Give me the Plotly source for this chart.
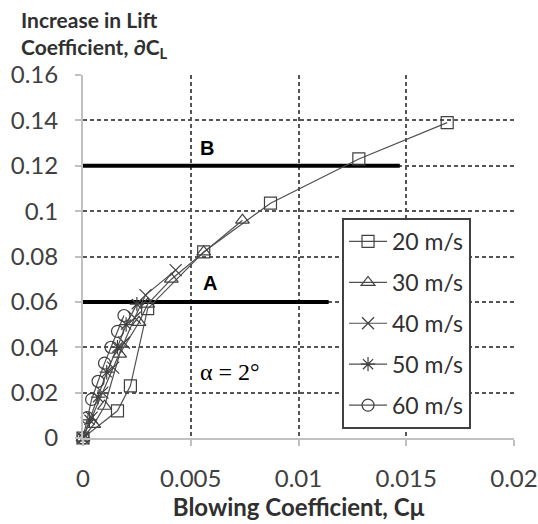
import plotly.graph_objects as go

# ---- data ----
x20 = [0.0, 0.0016, 0.0022, 0.0030, 0.0056, 0.0087, 0.0128, 0.0169]
y20 = [0.0, 0.012, 0.023, 0.057, 0.082, 0.1035, 0.123, 0.139]

x30 = [0.0, 0.0005, 0.0010, 0.0017, 0.0026, 0.0030, 0.0041, 0.0056, 0.0074]
y30 = [0.0, 0.006, 0.014, 0.037, 0.051, 0.059, 0.070, 0.082, 0.096]

x40 = [0.0, 0.0004, 0.0009, 0.0014, 0.0019, 0.0024, 0.0029, 0.0043]
y40 = [0.0, 0.009, 0.020, 0.031, 0.042, 0.053, 0.063, 0.074]

x50 = [0.0, 0.0003, 0.0007, 0.0011, 0.0016, 0.0020, 0.0025]
y50 = [0.0, 0.008, 0.018, 0.029, 0.040, 0.050, 0.059]

x60 = [0.0, 0.0002, 0.0004, 0.0007, 0.0010, 0.0013, 0.0016, 0.0019]
y60 = [0.0, 0.009, 0.017, 0.025, 0.033, 0.040, 0.047, 0.054]

series_names = ["20 m/s", "30 m/s", "40 m/s", "50 m/s", "60 m/s"]
series_symbols = ["square-open", "triangle-up-open", "x-thin-open", "asterisk-open", "circle-open"]

# reference lines A and B
line_A_x = [0.0, 0.0114]
line_A_y = [0.06, 0.06]
line_B_x = [0.0, 0.0147]
line_B_y = [0.12, 0.12]

x_ticks = [0, 0.005, 0.01, 0.015, 0.02]
x_ticklabels = ["0", "0.005", "0.01", "0.015", "0.02"]
y_ticks = [0, 0.02, 0.04, 0.06, 0.08, 0.1, 0.12, 0.14, 0.16]
y_ticklabels = ["0", "0.02", "0.04", "0.06", "0.08", "0.1", "0.12", "0.14", "0.16"]

xs = [x20, x30, x40, x50, x60]
ys = [y20, y30, y40, y50, y60]

fig = go.Figure()

# thick reference lines
for lx, ly in [(line_A_x, line_A_y), (line_B_x, line_B_y)]:
    fig.add_trace(go.Scatter(x=lx, y=ly, mode="lines", showlegend=False,
                             line=dict(color="black", width=4), hoverinfo="skip"))

for i, (xx, yy, nm, sym) in enumerate(zip(xs, ys, series_names, series_symbols)):
    fig.add_trace(go.Scatter(
        x=xx, y=yy, mode="lines+markers", name=nm, legendgroup=nm,
        line=dict(color="#505050", width=1.2),
        marker=dict(symbol=sym, size=12, color="#404040",
                    line=dict(color="#404040", width=1.2)),
        cliponaxis=False,
    ))

tick_font = dict(family="Lato", size=24, color="#404040")

fig.update_layout(
    width=538, height=524,
    margin=dict(l=83, r=24, t=75, b=86, autoexpand=False),
    plot_bgcolor="white", paper_bgcolor="white",
    showlegend=True,
    legend=dict(
        x=0.601, y=0.606, xanchor="left", yanchor="top",
        bgcolor="white", bordercolor="#404040", borderwidth=2,
        font=dict(family="Lato", size=23, color="#303030"),
        tracegroupgap=8, itemwidth=38,
    ),
    xaxis=dict(
        range=[0, 0.02], tickvals=x_ticks, ticktext=x_ticklabels, automargin=False,
        showgrid=True, gridcolor="#555555", griddash="4px,3px", gridwidth=1.5,
        zeroline=False, showline=True, linecolor="#c0c0c0", linewidth=2,
        ticks="outside", ticklen=6, tickcolor="#c0c0c0", tickwidth=1.5,
        tickfont=tick_font, ticklabelstandoff=12,
        title=dict(text="<b>Blowing Coefficient, Cμ</b>",
                   font=dict(family="Lato", size=24, color="#303030"), standoff=0),
    ),
    yaxis=dict(
        range=[0, 0.16], tickvals=y_ticks, ticktext=y_ticklabels, automargin=False,
        showgrid=True, gridcolor="#555555", griddash="4px,3px", gridwidth=1.5,
        zeroline=False, showline=True, linecolor="#c0c0c0", linewidth=2,
        ticks="outside", ticklen=6, tickcolor="#c0c0c0", tickwidth=1.5,
        tickfont=tick_font, ticklabelstandoff=12,
    ),
)

fig.add_annotation(text="<b>Increase in Lift</b>", xref="paper", yref="paper",
                   x=-0.148, y=1.153, xanchor="left", yanchor="middle", showarrow=False,
                   font=dict(family="Lato", size=21, color="#303030"))
fig.add_annotation(text="<b>Coefficient, ∂C<sub>L</sub></b>", xref="paper", yref="paper",
                   x=-0.148, y=1.075, xanchor="left", yanchor="middle", showarrow=False,
                   font=dict(family="Lato", size=21, color="#303030"))

fig.add_annotation(text="<b>A</b>", x=0.0059, y=0.0683, showarrow=False,
                   font=dict(family="Liberation Sans", size=20, color="black"))
fig.add_annotation(text="<b>B</b>", x=0.00575, y=0.1277, showarrow=False,
                   font=dict(family="Liberation Sans", size=20, color="black"))
fig.add_annotation(text="α = 2°", x=0.0068, y=0.029, showarrow=False,
                   font=dict(family="Liberation Serif", size=24, color="black"))

fig.write_html("out.html")
